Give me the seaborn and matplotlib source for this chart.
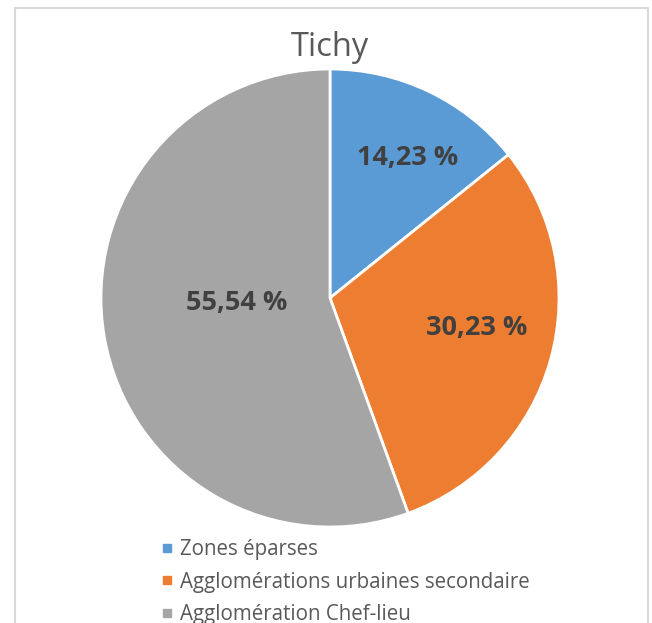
import matplotlib
matplotlib.use("Agg")
import matplotlib.pyplot as plt
import seaborn as sns
import numpy as np
from matplotlib.lines import Line2D
from matplotlib.patches import Rectangle

categories = ["Zones éparses", "Agglomérations urbaines secondaire", "Agglomération Chef-lieu"]
values = [14.23, 30.23, 55.54]
value_labels = ["14,23 %", "30,23 %", "55,54 %"]
colors = ["#5B9BD5", "#ED7D31", "#A5A5A5"]
title = "Tichy"

sns.set_theme(style="white")
plt.rcParams["font.family"] = ["Open Sans", "DejaVu Sans"]

W, H = 652, 623
fig = plt.figure(figsize=(W / 100, H / 100), dpi=100)
fig.patch.set_facecolor("white")

# border
fig.patches.append(Rectangle((14.5 / W, -0.1), (647.5 - 14.5) / W, 1.1 - 8.5 / H,
                             transform=fig.transFigure, fill=False,
                             edgecolor="#D9D9D9", linewidth=1.5))

cx, cy, r = 330, 298, 229
ax = fig.add_axes([(cx - r) / W, (H - cy - r) / H, 2 * r / W, 2 * r / H])
wedges, _ = ax.pie(values, colors=colors, startangle=90, counterclock=False,
                   radius=1.0, wedgeprops=dict(edgecolor="white", linewidth=2))
ax.set_xlim(-1, 1)
ax.set_ylim(-1, 1)
ax.set_aspect("equal")
ax.axis("off")

# data labels placed along each wedge (best-fit like)
dists = [0.70, 0.655, 0.41]
ang_off = [-3.5, 4.0, -7.0]
for w, lab, d, off in zip(wedges, value_labels, dists, ang_off):
    ang = np.deg2rad((w.theta1 + w.theta2) / 2 + off)
    ax.text(d * np.cos(ang), d * np.sin(ang), lab, ha="center", va="center",
            fontsize=19.5, fontweight="bold", color="#404040")

fig.text(cx / W, 1 - 48 / H, title, ha="center", va="center",
         fontsize=23.5, color="#595959")

handles = [Line2D([0], [0], marker="s", linestyle="none", markersize=6,
                  markerfacecolor=c, markeredgecolor=c) for c in colors]
leg = fig.legend(handles, categories, loc="upper left",
                 bbox_to_anchor=(161 / W, 1 - 539 / H), frameon=False,
                 fontsize=14.8, labelcolor="#595959", handlelength=0.55,
                 handletextpad=0.35, labelspacing=0.56, borderpad=0, borderaxespad=0)

fig.savefig("out.png", dpi=100)
